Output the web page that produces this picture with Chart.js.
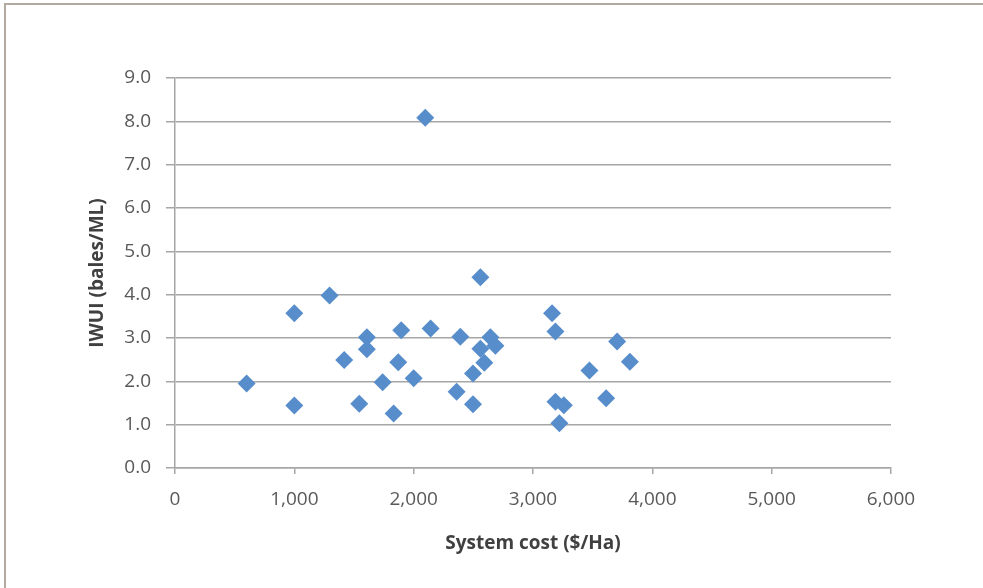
<!DOCTYPE html>
<html>
<head>
<meta charset="utf-8">
<script src="https://cdn.jsdelivr.net/npm/chart.js@4.4.1/dist/chart.umd.min.js"></script>
<style>
  html, body { margin: 0; padding: 0; background: #fff; }
  #wrap { width: 983px; height: 588px; }
</style>
</head>
<body>
<div id="wrap"><canvas id="scatterIwui" width="983" height="588"></canvas></div>
<script>
// System cost ($/Ha) and IWUI (bales/ML) per farm
const systemCost = [600, 1000, 1000, 1295, 1418, 1544, 1608, 1608, 1740, 1832, 1871,
    1896, 2000, 2097, 2142, 2360, 2391, 2497, 2497, 2559, 2559, 2592, 2643, 2685,
    3160, 3188, 3188, 3221, 3258, 3473, 3613, 3705, 3812];
const iwui = [1.95, 3.57, 1.44, 3.98, 2.49, 1.48, 3.02, 2.74, 1.98, 1.26, 2.44,
    3.18, 2.07, 8.08, 3.22, 1.76, 3.03, 2.18, 1.47, 4.40, 2.75, 2.43, 3.02, 2.82,
    3.57, 3.15, 1.53, 1.03, 1.45, 2.25, 1.61, 2.92, 2.45];
const xTicks = [0, 1000, 2000, 3000, 4000, 5000, 6000];
const yTicks = [0, 1, 2, 3, 4, 5, 6, 7, 8, 9];

(function() {
    const ctx = document.getElementById('scatterIwui');
    const points = systemCost.map((c, i) => ({ x: c, y: iwui[i] }));

    // fondo blanco y marco superior / izquierdo
    const framePlugin = {
        id: 'frame',
        beforeDraw(chart) {
            const c = chart.ctx;
            c.save();
            c.fillStyle = '#ffffff';
            c.fillRect(0, 0, chart.width, chart.height);
            c.strokeStyle = '#b2a99f';
            c.lineWidth = 2;
            c.beginPath();
            c.moveTo(5, chart.height);
            c.lineTo(5, 4);
            c.lineTo(chart.width, 4);
            c.stroke();
            c.restore();
        }
    };

    new Chart(ctx, {
        type: 'scatter',
        data: {
            datasets: [{
                label: 'IWUI',
                data: points,
                pointStyle: 'rectRot',
                pointRadius: 9,
                pointHoverRadius: 9,
                backgroundColor: '#588dcc',
                borderWidth: 0
            }]
        },
        options: {
            responsive: false,
            animation: false,
            events: [],
            layout: { padding: { top: 78, right: 92, left: 0, bottom: 0 } },
            plugins: {
                legend: { display: false },
                tooltip: { enabled: false }
            },
            scales: {
                x: {
                    type: 'linear',
                    min: 0,
                    max: 6000,
                    afterFit: (s) => { s.height = 120; },
                    afterBuildTicks: (s) => { s.ticks = xTicks.map(v => ({ value: v })); },
                    grid: { drawOnChartArea: false, drawTicks: true, tickLength: 6, color: '#a6a6a6', lineWidth: 1.5 },
                    border: { color: '#a6a6a6', width: 1.5 },
                    ticks: {
                        padding: 14,
                        color: '#595959',
                        font: { family: 'Open Sans', size: 19 },
                        callback: (v) => v.toLocaleString('en-US')
                    },
                    title: {
                        display: true,
                        text: 'System cost ($/Ha)',
                        color: '#404040',
                        font: { family: 'Open Sans', size: 19, weight: 'bold' },
                        padding: { top: 0, bottom: 33 }
                    }
                },
                y: {
                    type: 'linear',
                    min: 0,
                    max: 9,
                    afterFit: (s) => { s.width = 175; },
                    afterBuildTicks: (s) => { s.ticks = yTicks.map(v => ({ value: v })); },
                    grid: { color: '#a6a6a6', lineWidth: 1.5, tickLength: 9 },
                    border: { color: '#a6a6a6', width: 1.5 },
                    ticks: {
                        padding: 15,
                        color: '#595959',
                        font: { family: 'Open Sans', size: 19 },
                        callback: (v) => Number(v).toFixed(1)
                    },
                    title: {
                        display: true,
                        text: 'IWUI (bales/ML)',
                        color: '#404040',
                        font: { family: 'Open Sans', size: 19, weight: 'bold' },
                        padding: { top: 86, bottom: 0 }
                    }
                }
            }
        },
        plugins: [framePlugin]
    });
})();
</script>
</body>
</html>
